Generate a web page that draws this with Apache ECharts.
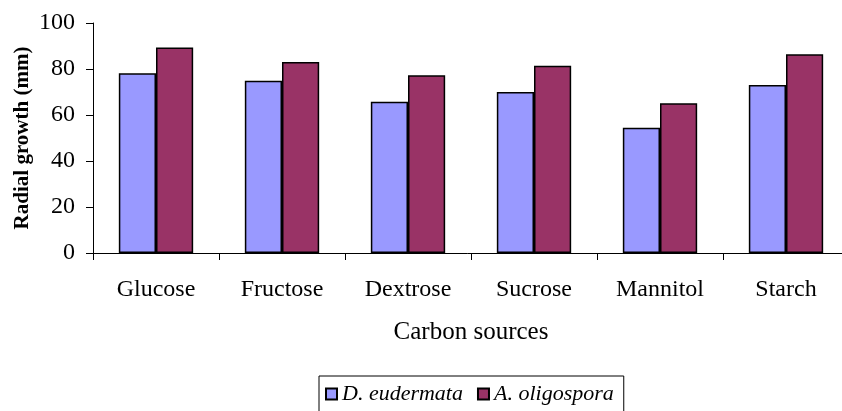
<!DOCTYPE html>
<html>
<head>
<meta charset="utf-8">
<script src="https://cdn.jsdelivr.net/npm/echarts@6/dist/echarts.min.js"></script>
<style>
  html, body { margin: 0; padding: 0; background: #fff; }
  #chart { width: 842px; height: 411px; }
</style>
</head>
<body>
<div id="chart"></div>
<script>
const categories = ["Glucose", "Fructose", "Dextrose", "Sucrose", "Mannitol", "Starch"];
const eudermata = [78.1, 74.9, 65.8, 70.0, 54.5, 73.0];
const oligospora = [89.4, 83.0, 77.3, 81.4, 65.1, 86.4];
const yTicks = [0, 20, 40, 60, 80, 100];

const font = "'Liberation Serif', 'Times New Roman', serif";
let myChart = echarts.init(document.getElementById("chart"));

myChart.setOption({
  animation: false,
  textStyle: { fontFamily: font, color: "#000" },
  grid: { left: 93, right: -7, top: 23, bottom: 158, outerBoundsMode: "none", containLabel: false },
  legend: {
    top: 376,
    left: 319,
    padding: [7, 10, 8, 6],
    borderColor: "#000",
    borderWidth: 1,
    itemWidth: 11,
    itemHeight: 11,
    itemGap: 14,
    icon: "rect",
    textStyle: { fontFamily: font, fontSize: 22, fontStyle: "italic", color: "#000" },
    data: ["D. eudermata", "A. oligospora"],
  },
  xAxis: {
    type: "category",
    data: categories,
    name: "Carbon sources",
    nameLocation: "middle",
    nameGap: 67,
    nameMoveOverlap: false,
    nameTextStyle: { fontFamily: font, fontSize: 25, color: "#000" },
    axisLine: { lineStyle: { color: "#000", width: 1 } },
    axisTick: { show: true, length: 7, lineStyle: { color: "#000" } },
    axisLabel: { fontFamily: font, fontSize: 24, color: "#000", margin: 25 },
  },
  yAxis: {
    type: "value",
    min: yTicks[0],
    max: yTicks[yTicks.length - 1],
    interval: 20,
    name: "Radial growth (mm)",
    nameLocation: "middle",
    nameGap: 60,
    nameMoveOverlap: false,
    nameTextStyle: { fontFamily: font, fontSize: 21, fontWeight: "bold", color: "#000" },
    axisLine: { show: true, lineStyle: { color: "#000", width: 1 } },
    axisTick: { show: true, length: 7, lineStyle: { color: "#000" } },
    axisLabel: { fontFamily: font, fontSize: 24, color: "#000", margin: 18 },
    splitLine: { show: false },
  },
  series: [
    {
      name: "D. eudermata",
      type: "bar",
      data: eudermata,
      barGap: "0%",
      barCategoryGap: "41%",
      itemStyle: { color: "#9999FF", borderColor: "#000", borderWidth: 1.5 },
    },
    {
      name: "A. oligospora",
      type: "bar",
      data: oligospora,
      itemStyle: { color: "#993366", borderColor: "#000", borderWidth: 1.5 },
    },
  ],
});
</script>
</body>
</html>
